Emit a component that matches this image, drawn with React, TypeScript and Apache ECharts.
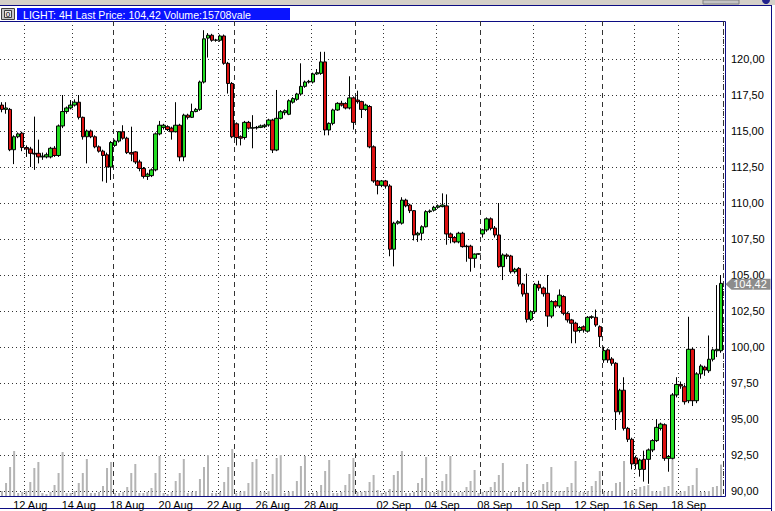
import React, { useEffect, useRef } from 'react';
import * as echarts from 'echarts';

// ---- data (4H bars) ----
const openP = [
  116.8,116.5,116.5,113.7,114.6,114.85,113.85,113.75,113.45,113.45,
  113.2,113.2,113.2,113.8,113.3,115.35,116.35,116.6,116.8,117.0,
  115.95,114.6,115.0,114.6,113.9,113.6,113.35,112.5,114.0,114.3,
  114.95,114.5,113.5,113.55,112.85,112.4,111.85,111.9,112.3,114.8,
  115.25,115.3,115.2,114.95,115.4,113.2,116.1,115.95,116.35,116.5,
  118.4,121.45,121.65,121.3,121.3,121.6,119.7,118.3,115.5,114.6,
  114.55,115.6,115.2,115.22,115.25,115.3,115.42,115.76,113.68,115.88,
  116.27,116.16,117.0,117.2,117.57,118.1,118.4,118.4,118.96,119.0,
  119.8,115.07,115.53,116.46,116.92,116.9,116.6,117.3,117.15,117.04,
  116.5,116.7,113.9,111.53,111.23,111.53,111.18,106.79,108.6,108.6,
  110.2,109.86,109.47,107.78,107.9,108.35,109.4,109.5,109.7,109.75,
  109.8,107.85,107.6,107.3,107.9,107.0,107.0,106.16,106.45,107.85,
  108.13,108.9,108.26,107.78,105.58,106.39,106.32,105.23,105.46,104.37,
  103.73,101.92,102.45,104.35,104.1,103.73,102.15,103.15,102.85,103.5,
  102.34,101.88,101.65,101.15,101.4,101.1,102.06,102.06,101.41,99.1,
  99.8,99.17,98.87,95.5,97.0,94.35,93.59,92.3,91.5,92.2,
  92.2,92.85,93.5,94.35,94.6,92.27,92.27,96.67,97.4,97.24,
  96.27,99.84,96.27,98.13,98.6,98.35,99.15,99.74,99.74,
];
const closeP = [
  116.5,116.6,113.7,114.6,114.8,113.85,113.75,113.45,113.4,113.2,
  113.25,113.35,113.8,113.3,115.35,116.35,116.6,116.8,117.0,115.95,
  114.6,115.0,114.6,113.9,113.6,113.3,112.5,114.2,114.3,114.95,
  114.5,113.5,113.4,112.85,112.4,111.85,112.0,112.3,114.8,115.4,
  115.4,115.1,114.95,115.4,113.2,116.1,115.95,116.35,116.5,118.4,
  121.4,121.65,121.3,121.32,121.6,119.7,118.3,114.6,114.55,114.5,
  115.6,115.2,115.22,115.25,115.35,115.4,115.76,113.68,115.88,116.34,
  116.41,117.1,117.25,117.57,118.1,118.4,118.45,118.96,119.05,119.8,
  115.07,115.53,116.46,116.92,116.8,116.6,117.3,115.6,117.04,116.5,
  116.8,113.9,111.53,111.23,111.53,111.18,106.79,108.6,108.7,110.2,
  109.8,109.47,107.78,107.9,108.35,109.4,109.45,109.7,109.8,109.86,
  107.85,107.6,107.3,107.9,106.97,106.97,106.16,106.45,106.47,108.13,
  108.9,108.24,107.78,105.58,106.39,106.3,105.23,105.4,104.37,103.68,
  101.92,102.45,104.35,104.1,103.7,102.15,103.15,102.85,103.6,102.34,
  101.88,101.65,101.1,101.35,101.18,102.06,102.1,101.53,100.72,99.75,
  99.1,98.87,95.5,97.0,94.35,93.59,91.88,91.88,92.15,91.5,
  92.85,93.5,94.42,94.65,92.27,92.4,96.67,97.4,97.3,96.2,
  99.84,96.27,98.13,98.68,98.4,99.15,99.8,99.84,104.42,
];
const lowP = [
  116.3,116.2,113.6,112.7,114.5,113.6,113.2,112.5,112.3,112.75,
  113.0,113.1,113.1,113.2,113.2,115.2,116.2,116.5,116.7,115.8,
  114.4,112.75,114.5,113.8,113.5,111.5,111.4,111.6,113.9,114.2,
  114.4,113.4,112.9,112.7,112.2,111.7,111.6,111.8,112.2,114.7,
  115.1,115.0,114.4,114.9,112.9,112.9,115.8,115.9,116.3,116.4,
  118.3,120.1,121.2,121.2,121.2,119.6,117.6,114.5,114.0,114.0,
  114.4,115.1,113.8,115.1,115.2,115.2,115.3,113.47,113.6,115.8,
  116.1,116.1,116.9,117.1,117.5,118.0,118.3,118.3,118.9,118.9,
  114.7,114.7,115.4,116.4,116.7,116.5,116.5,115.1,116.9,115.9,
  116.4,113.8,111.4,110.6,111.1,111.0,106.3,105.6,108.5,108.5,
  109.7,109.3,107.4,107.3,107.4,108.3,109.3,109.4,109.6,109.7,
  107.1,107.2,107.2,107.2,106.9,105.92,105.23,105.5,106.4,107.6,
  108.0,108.1,107.6,105.5,104.65,106.1,105.1,105.1,104.2,103.5,
  101.7,101.8,102.3,103.9,103.5,101.4,102.0,102.7,102.7,102.2,
  101.7,100.26,100.26,101.0,101.0,101.0,101.95,101.4,100.0,98.9,
  98.9,98.7,94.24,95.3,94.2,93.4,91.5,91.5,91.0,90.65,
  90.5,92.7,93.4,94.2,92.1,91.34,92.2,96.5,97.1,96.0,
  96.1,95.9,96.1,97.8,98.0,98.2,99.0,99.3,99.6,
];
const highP = [
  117.0,117.0,116.6,114.7,114.9,114.95,114.0,113.9,116.0,114.4,
  113.5,113.5,113.9,113.95,115.45,117.5,116.7,117.15,117.2,117.5,
  116.0,115.1,115.1,114.7,114.0,113.7,113.5,114.3,114.4,115.0,
  115.4,114.6,115.3,113.6,113.0,112.5,112.1,112.4,114.9,115.7,
  115.5,115.4,115.3,117.0,115.5,116.2,116.2,116.9,116.6,118.5,
  122.0,121.8,121.75,121.4,121.7,121.7,119.8,118.4,115.6,114.7,
  115.7,115.7,116.1,115.35,115.45,115.5,115.85,115.85,117.85,116.45,
  116.5,117.2,117.35,117.65,119.7,118.5,118.55,119.05,119.3,120.5,
  120.5,115.6,116.55,117.0,117.1,117.0,118.8,117.4,117.8,117.1,
  116.9,116.8,114.0,111.6,111.6,111.6,111.3,108.7,108.8,110.4,
  110.3,109.95,109.5,108.0,108.45,109.5,109.55,109.8,109.9,110.67,
  110.6,107.95,107.7,108.0,108.0,107.1,107.1,106.5,106.5,108.2,
  109.0,109.0,108.4,110.0,106.5,106.5,106.4,105.5,105.55,104.45,
  105.1,102.55,104.45,104.6,104.2,105.0,103.25,103.25,104.0,103.6,
  102.45,101.95,101.75,101.45,101.5,102.15,102.2,102.6,101.5,100.02,
  99.9,99.3,98.95,97.1,97.9,94.45,93.7,92.45,92.25,92.8,
  92.95,93.6,95.0,94.75,94.7,92.5,96.8,97.9,97.6,97.4,
  102.1,99.95,98.25,98.8,98.7,100.8,99.9,104.3,105.0,
];
const volumes = [
  2500,6500,14500,22500,1500,2000,2500,7000,14000,17000,
  1500,1000,2000,5500,11500,22000,1500,1500,2500,6500,
  11500,18500,1500,1500,2000,5000,14000,17000,1500,1500,
  2000,4500,11500,16000,1500,1500,2000,4000,11500,20000,
  1500,1000,2000,7500,11500,18500,1500,2000,2500,8500,
  14500,20500,1500,1500,2000,7000,14500,23500,1500,2000,
  2500,6500,17000,18500,2000,2000,2500,11000,19000,20500,
  1500,2000,2500,7500,15000,20000,1500,1500,2000,5500,
  12500,18000,1500,1500,2000,5500,11000,19000,2000,2000,
  2500,7000,10500,3000,1500,2000,3500,10500,12500,22500,
  1500,1500,2000,6500,9000,19500,2000,2000,3000,7500,
  11000,20000,1500,2000,2000,4500,7500,13000,1500,2000,
  2500,4500,7000,10500,16500,1500,2000,2500,4500,7000,
  16000,2000,2000,3000,6000,7000,14500,2000,2500,2500,
  4500,6500,17500,2000,2000,2500,5000,7500,12500,2000,
  2000,2500,6500,7000,17500,2000,3000,3500,4500,5000,
  5500,2500,2000,2500,4500,5000,18500,2000,2000,2500,
  5000,5500,14000,2000,2000,2500,4500,5000,15708,
];
const categories = openP.map((_, i) => 'bar' + i);
const labelIdx = [7, 19, 31, 43, 55, 67, 79, 97, 109, 122, 134, 146, 158, 170];
const labelText = ['12 Aug', '14 Aug', '18 Aug', '20 Aug', '22 Aug', '26 Aug', '28 Aug',
  '02 Sep', '04 Sep', '08 Sep', '10 Sep', '12 Sep', '16 Sep', '18 Sep'];
const dottedIdx = [6, 18, 41, 54, 66, 77, 95, 108, 132, 145, 157, 168];
const dashedIdx = [28, 58, 88, 119, 149];
const priceMin = 87.5;
const priceMax = 122.5;
const priceStep = 2.5;
const lastPrice = 104.42;

const fmt = (v: number) => v.toFixed(2).replace('.', ',');
const NAVY = '#0c0c82';
const FONT = 'Liberation Sans, Arial, sans-serif';

export default function App() {
  const ref = useRef<HTMLDivElement>(null);
  useEffect(() => {
    if (!ref.current) return;
    const chart = echarts.init(ref.current, undefined, { renderer: 'svg' });
    const candles = openP.map((o, i) => [o, closeP[i], lowP[i], highP[i]]);
    const last = candles.length - 1;
    const header = `LIGHT: 4H Last Price: ${fmt(lastPrice)} Volume:${volumes[last]}vale`;
    chart.setOption({
      animation: false,
      backgroundColor: '#ffffff',
      textStyle: { fontFamily: FONT },
      grid: [
        { left: 0, top: 23, width: 723, height: 504, containLabel: false, outerBoundsMode: 'none' },
        { left: 0, top: 21, width: 723, height: 475, containLabel: false, outerBoundsMode: 'none' },
      ],
      xAxis: [
        {
          type: 'category', gridIndex: 0, data: categories, boundaryGap: true,
          axisLine: { show: false }, axisTick: { show: false }, axisLabel: { show: false }, splitLine: { show: false },
        },
        {
          type: 'category', gridIndex: 1, data: categories, boundaryGap: true,
          axisLine: { show: false }, axisTick: { show: false },
          axisLabel: {
            interval: (i: number) => labelIdx.includes(i),
            formatter: (_v: string, i: number) => { const k = labelIdx.indexOf(i); return k >= 0 ? labelText[k] : ''; },
            color: '#000', fontSize: 11, margin: 3, fontFamily: FONT,
          },
          splitLine: { show: true, interval: (i: number) => dottedIdx.includes(i), lineStyle: { color: '#333', type: [1, 3], width: 1 } },
        },
        {
          type: 'category', gridIndex: 1, data: categories, boundaryGap: true,
          axisLine: { show: false }, axisTick: { show: false }, axisLabel: { show: false },
          splitLine: { show: true, interval: (i: number) => dashedIdx.includes(i), lineStyle: { color: '#333', type: [5, 4], width: 1 } },
        },
      ],
      yAxis: [
        {
          type: 'value', gridIndex: 0, position: 'right', min: priceMin, max: priceMax, interval: priceStep,
          axisLine: { show: false }, axisTick: { show: false },
          axisLabel: {
            formatter: (v: number) => (v < 89 || v > 121 ? '' : fmt(v)),
            color: '#000', fontSize: 11, margin: 8, fontFamily: FONT,
          },
          splitLine: { show: true, showMinLine: false, showMaxLine: false, lineStyle: { color: '#333', type: [1, 3], width: 1 } },
        },
        { type: 'value', gridIndex: 1, min: 0, max: 237500, show: false, splitLine: { show: false } },
      ],
      series: [
        {
          type: 'bar', xAxisIndex: 1, yAxisIndex: 1, data: volumes, barWidth: 2, z: 1,
          itemStyle: { color: '#b4b4b4' },
        },
        {
          type: 'candlestick', xAxisIndex: 0, yAxisIndex: 0, data: candles, barWidth: 4, z: 3,
          itemStyle: {
            color: '#22dd22', color0: '#dd1111', borderColor: '#000', borderColor0: '#000',
            borderColorDoji: '#000', borderWidth: 1,
          },
          markPoint: {
            symbol: 'path://M0,5.5 L6,0 L45,0 L45,11 L6,11 Z',
            symbolSize: [45, 11], symbolOffset: [27, 1], symbolKeepAspect: false,
            itemStyle: { color: '#8c8c8c' },
            label: { show: true, color: '#fff', fontSize: 11, fontFamily: FONT, offset: [2, 0], formatter: () => fmt(lastPrice) },
            data: [{ coord: [categories[last], lastPrice], value: lastPrice }],
            z: 10,
          },
        },
      ],
      graphic: [
        { type: 'rect', silent: true, shape: { x: 0, y: 0, width: 775, height: 5 }, style: { fill: '#d4d0c8' } },
        { type: 'rect', silent: true, shape: { x: 703, y: 0, width: 36, height: 4 }, style: { fill: '#c4c4c4', stroke: '#808080', lineWidth: 1 } },
        { type: 'circle', silent: true, shape: { cx: 766, cy: 0, r: 4 }, style: { fill: '#23238e' } },
        { type: 'line', silent: true, shape: { x1: 0, y1: 5.5, x2: 772, y2: 5.5 }, style: { stroke: NAVY, lineWidth: 1 } },
        { type: 'line', silent: true, shape: { x1: 771.5, y1: 5, x2: 771.5, y2: 511 }, style: { stroke: NAVY, lineWidth: 1 } },
        { type: 'line', silent: true, shape: { x1: 0, y1: 508.5, x2: 772, y2: 508.5 }, style: { stroke: NAVY, lineWidth: 1 } },
        {
          type: 'polyline', silent: true,
          shape: { points: [[0, 21.5], [725.5, 21.5], [725.5, 496.5], [0, 496.5]] },
          style: { stroke: NAVY, fill: 'none', lineWidth: 1 },
        },
        { type: 'rect', silent: true, shape: { x: 1.5, y: 8.5, width: 13, height: 11 }, style: { fill: '#c8c8c8', stroke: '#404040', lineWidth: 1 } },
        { type: 'rect', silent: true, shape: { x: 4.5, y: 10.5, width: 7, height: 7 }, style: { fill: '#e8e8e8', stroke: '#404040', lineWidth: 1 } },
        { type: 'text', silent: true, x: 8, y: 14, style: { text: '0', fontSize: 8, fill: '#000', align: 'center', verticalAlign: 'middle', fontFamily: FONT } },
        { type: 'rect', silent: true, shape: { x: 17, y: 8, width: 273, height: 12 }, style: { fill: '#0a14ff' } },
        { type: 'text', silent: true, x: 23, y: 14.5, style: { text: header, fontSize: 10.6, fill: '#ffffff', verticalAlign: 'middle', fontFamily: FONT } },
      ],
    });
    return () => chart.dispose();
  }, []);
  return <div ref={ref} style={{ position: 'fixed', left: 0, top: 0, width: 775, height: 511 }} />;
}
